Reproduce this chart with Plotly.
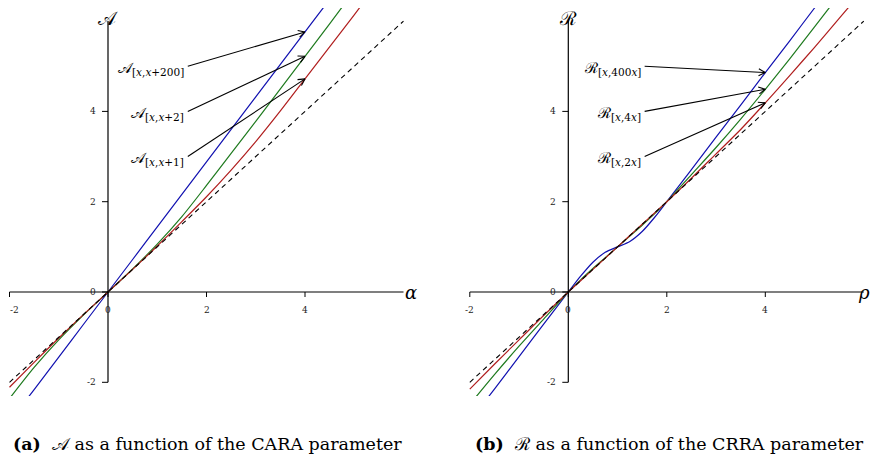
import math
import plotly.graph_objects as go

# ---------------- data ----------------
alpha_grid = [-2, -1.5, -1, -0.5, 0, 0.5, 1, 1.5, 2, 2.5, 3, 3.5, 4, 4.5, 5, 5.5, 6]
A_h1 = [-2.11, -1.56, -1.02, -0.5, 0, 0.5, 1.02, 1.56, 2.11, 2.70, 3.33, 4.01, 4.72, 5.43, 6.14, 6.86, 7.58]
A_h2 = [-2.36, -1.67, -1.06, -0.51, 0, 0.51, 1.06, 1.67, 2.36, 3.07, 3.78, 4.50, 5.22, 5.94, 6.67, 7.40, 8.13]
A_h200 = [-2.88, -2.16, -1.44, -0.72, 0, 0.72, 1.44, 2.16, 2.88, 3.60, 4.32, 5.04, 5.76, 6.48, 7.20, 7.92, 8.64]

rho_grid = [-2, -1.5, -1, -0.5, 0, 0.25, 0.5, 0.75, 1, 1.25, 1.5, 1.75, 2, 2.5, 3, 3.5, 4, 4.5, 5, 5.5, 6]
R_k2 = [-2.15, -1.6, -1.06, -0.52, 0, 0.25, 0.5, 0.75, 1, 1.25, 1.5, 1.75, 2, 2.52, 3.06, 3.6, 4.19, 4.8, 5.42, 6.06, 6.7]
R_k4 = [-2.49, -1.83, -1.2, -0.6, 0, 0.27, 0.52, 0.76, 1, 1.24, 1.48, 1.73, 2, 2.6, 3.2, 3.83, 4.49, 5.17, 5.87, 6.58, 7.29]
R_k400 = [-2.86, -2.15, -1.43, -0.71, 0, 0.35, 0.66, 0.88, 1.0, 1.12, 1.34, 1.65, 2.0, 2.71, 3.43, 4.14, 4.86, 5.57, 6.29, 7.0, 7.72]

identity_x = [-2, 6]
identity_y = [-2, 6]

tick_values = [-2, 0, 2, 4]
tick_labels = ["-2", "0", "2", "4"]
axis_extent = [-2, 6]

# annotation labels and arrow tips (at x = 4)
A_labels = ["𝒜<sub>[<i>x</i>,<i>x</i>+200]</sub>", "𝒜<sub>[<i>x</i>,<i>x</i>+2]</sub>", "𝒜<sub>[<i>x</i>,<i>x</i>+1]</sub>"]
A_label_y = [5.0, 4.0, 3.0]
A_tip_x = 4
A_tip_y = [5.76, 5.22, 4.72]

R_labels = ["ℛ<sub>[<i>x</i>,400<i>x</i>]</sub>", "ℛ<sub>[<i>x</i>,4<i>x</i>]</sub>", "ℛ<sub>[<i>x</i>,2<i>x</i>]</sub>"]
R_label_y = [5.0, 4.0, 3.0]
R_tip_x = 4
R_tip_y = [4.86, 4.49, 4.19]

captions = ["<b>(a)</b>  𝒜 as a function of the CARA parameter",
            "<b>(b)</b>  ℛ as a function of the CRRA parameter"]

# ---------------- styles ----------------
BLUE = "#1010b0"
GREEN = "#1e7a1e"
RED = "#b01e1e"
SERIF = "DejaVu Serif"

fig = go.Figure()

def add_panel(xs, series, colors, xa, ya):
    for ys, c in zip(series, colors):
        fig.add_trace(go.Scatter(x=xs, y=ys, mode="lines",
                                 line=dict(color=c, width=1.2, shape="spline", smoothing=0.8),
                                 xaxis=xa, yaxis=ya, hoverinfo="skip"))
    fig.add_trace(go.Scatter(x=identity_x, y=identity_y, mode="lines",
                             line=dict(color="black", width=1.1, dash="5px,4px"),
                             xaxis=xa, yaxis=ya, hoverinfo="skip"))

add_panel(alpha_grid, [A_h200, A_h2, A_h1], [BLUE, GREEN, RED], "x", "y")
add_panel(rho_grid, [R_k400, R_k4, R_k2], [BLUE, GREEN, RED], "x2", "y2")

# page has an 8px body margin: figure is placed at (8, 8)
OFF = 8
W, H = 878 - OFF, 459 - OFF
PXX = 49.25
PXY = 45.15
y0_px = 292 - OFF          # pixel row of y = 0 inside the figure
bottom_px = 396 - OFF      # bottom of plot area inside the figure
MT = 0
MB = H - bottom_px
plot_h = bottom_px - MT
yr = [-(bottom_px - y0_px) / PXY, (y0_px - MT) / PXY]
split = 439 - OFF
left_x0 = 108.0 - OFF
right_x0 = 568.3 - OFF

shapes = []
annotations = []

def panel_axes(xref, yref, xlabel, ylabel, first_left, xlab_shift):
    shapes.append(dict(type="line", xref=xref, yref=yref, x0=axis_extent[0], x1=axis_extent[1], y0=0, y1=0,
                       line=dict(color="black", width=1.2)))
    shapes.append(dict(type="line", xref=xref, yref=yref, x0=0, x1=0, y0=axis_extent[0], y1=axis_extent[1],
                       line=dict(color="black", width=1.2)))
    for i, (v, lab) in enumerate(zip(tick_values, tick_labels)):
        shapes.append(dict(type="line", xref=xref, yref=yref, ysizemode="pixel", yanchor=0,
                           x0=v, x1=v, y0=0, y1=-5, line=dict(color="black", width=1)))
        shapes.append(dict(type="line", xref=xref, yref=yref, xsizemode="pixel", xanchor=0,
                           x0=0, x1=-6, y0=v, y1=v, line=dict(color="black", width=1)))
        if i == 0 and first_left:
            xa, xs = "left", -2
        else:
            xa, xs = "center", 0
        annotations.append(dict(xref=xref, yref=yref, x=v, y=0, text=lab, showarrow=False,
                                xanchor=xa, xshift=xs, yanchor="middle", yshift=-18,
                                font=dict(family=SERIF, size=9, color="#222")))
        annotations.append(dict(xref=xref, yref=yref, x=0, y=v, text=lab, showarrow=False,
                                xanchor="right", yanchor="middle", xshift=-10,
                                font=dict(family=SERIF, size=9, color="#222")))
    annotations.append(dict(xref=xref, yref=yref, x=axis_extent[1], y=0, text=xlabel, showarrow=False,
                            xanchor="left", yanchor="middle", xshift=xlab_shift, borderpad=0,
                            font=dict(family=SERIF, size=18, color="black")))
    annotations.append(dict(xref=xref, yref=yref, x=0, y=axis_extent[1], text=ylabel, showarrow=False,
                            xanchor="center", yanchor="top", yshift=15, borderpad=0,
                            font=dict(family=SERIF, size=19, color="black")))

panel_axes("x", "y", "<i>α</i>", "𝒜", True, 0)
panel_axes("x2", "y2", "<i>ρ</i>", "ℛ", False, -7)

HEAD_LEN = 7.5
HEAD_ANG = math.radians(28)

def panel_labels(xref, yref, labels, label_y, tip_x, tip_y, tail_x):
    for lab, ly, ty in zip(labels, label_y, tip_y):
        annotations.append(dict(xref=xref, yref=yref, x=tail_x, y=ly, text=lab, showarrow=False,
                                xanchor="right", yanchor="middle", xshift=-2, yshift=-2,
                                font=dict(family=SERIF, size=15, color="black")))
        # arrow shaft
        shapes.append(dict(type="line", xref=xref, yref=yref, x0=tail_x, y0=ly, x1=tip_x, y1=ty,
                           line=dict(color="black", width=1.1)))
        # open arrow head (two barbs, in pixels around the tip)
        dx = (tip_x - tail_x) * PXX
        dy = (ty - ly) * PXY
        n = math.hypot(dx, dy)
        ux, uy = dx / n, dy / n
        for s in (1, -1):
            c, sn = math.cos(s * HEAD_ANG), math.sin(s * HEAD_ANG)
            bx = -(ux * c - uy * sn) * HEAD_LEN
            by = -(ux * sn + uy * c) * HEAD_LEN
            shapes.append(dict(type="line", xref=xref, yref=yref,
                               xsizemode="pixel", ysizemode="pixel", xanchor=tip_x, yanchor=ty,
                               x0=0, y0=0, x1=bx, y1=by,
                               line=dict(color="black", width=1.1)))

panel_labels("x", "y", A_labels, A_label_y, A_tip_x, A_tip_y, 1.62)
panel_labels("x2", "y2", R_labels, R_label_y, R_tip_x, R_tip_y, 1.55)

cap_y = (bottom_px - (444 - OFF)) / plot_h
annotations.append(dict(xref="paper", yref="paper", x=(207 - OFF) / W, y=cap_y, text=captions[0], showarrow=False,
                        xanchor="center", yanchor="middle", font=dict(family=SERIF, size=17.5, color="black")))
annotations.append(dict(xref="paper", yref="paper", x=(669 - OFF) / W, y=cap_y, text=captions[1], showarrow=False,
                        xanchor="center", yanchor="middle", font=dict(family=SERIF, size=17.5, color="black")))

fig.update_layout(
    width=W, height=H,
    margin=dict(l=0, r=0, t=MT, b=MB),
    paper_bgcolor="white", plot_bgcolor="white",
    showlegend=False,
    xaxis=dict(domain=[0, split / W], range=[(0 - left_x0) / PXX, (split - left_x0) / PXX],
               visible=False, anchor="y"),
    yaxis=dict(domain=[0, 1], range=yr, visible=False, anchor="x"),
    xaxis2=dict(domain=[split / W, 1], range=[(split - right_x0) / PXX, (W - right_x0) / PXX],
                visible=False, anchor="y2"),
    yaxis2=dict(domain=[0, 1], range=yr, visible=False, anchor="x2"),
    shapes=shapes,
    annotations=annotations,
)

fig.write_html("out.html")
